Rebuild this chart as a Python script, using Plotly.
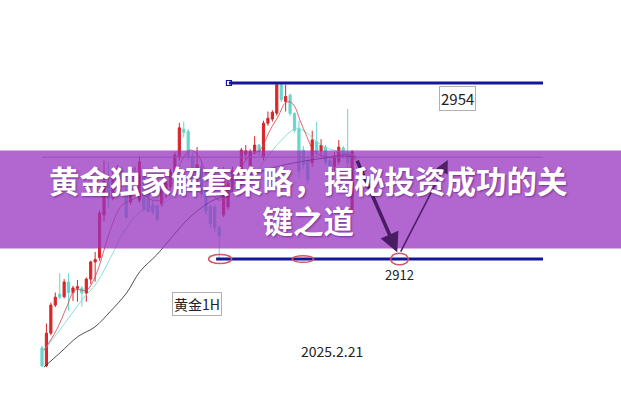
import plotly.graph_objects as go

# ---- candle data (index, open, high, low, close) ----
candle_open = [2890.8, 2886.5, 2894.3, 2901.0, 2903.6, 2903.0, 2906.5, 2904.0, 2905.0, 2905.1,
               2903.9, 2907.2, 2911.3, 2912.3, 2922.5, 2930.5, 2926.5, 2930.5, 2933.5, 2928.5,
               2925.6, 2930.0, 2926.0, 2932.8, 2928.0, 2924.9, 2924.4, 2925.0, 2928.0, 2929.2,
               2932.8, 2936.3, 2943.0, 2942.4, 2936.5, 2931.0, 2934.0, 2928.5, 2924.5, 2924.4,
               2919.5, 2922.5, 2924.4, 2929.0, 2933.0, 2930.0, 2937.0, 2933.5, 2937.6, 2939.2,
               2936.3, 2944.4, 2945.4, 2946.8, 2953.6, 2949.6, 2951.1, 2946.7, 2943.1, 2938.0,
               2935.6, 2935.0, 2940.0, 2937.8, 2938.7, 2935.5, 2934.0, 2935.2, 2938.5, 2937.5,
               2923.7]
candle_close = [2886.5, 2894.3, 2901.0, 2902.9, 2902.9, 2906.5, 2904.0, 2905.1, 2905.4, 2903.9,
                2907.2, 2911.3, 2911.9, 2923.0, 2930.5, 2926.5, 2931.5, 2933.5, 2930.2, 2922.0,
                2931.6, 2932.0, 2935.2, 2924.0, 2923.4, 2923.2, 2921.5, 2928.5, 2930.0, 2932.8,
                2936.8, 2943.3, 2942.2, 2936.4, 2931.0, 2934.5, 2927.5, 2923.5, 2920.5, 2919.5,
                2917.5, 2932.8, 2930.1, 2933.0, 2930.5, 2938.0, 2937.8, 2937.6, 2939.2, 2937.6,
                2944.4, 2945.6, 2947.0, 2953.6, 2950.0, 2950.8, 2946.7, 2942.7, 2933.0, 2934.5,
                2930.9, 2940.4, 2937.5, 2939.2, 2935.0, 2933.0, 2936.6, 2938.7, 2937.0, 2935.0,
                2937.6]
candle_high = [2891.3, 2896.6, 2901.6, 2904.0, 2908.6, 2907.2, 2908.6, 2905.6, 2907.0, 2905.5,
               2907.6, 2911.6, 2913.7, 2923.6, 2935.5, 2935.2, 2933.2, 2934.5, 2934.0, 2930.0,
               2932.5, 2934.0, 2936.5, 2934.0, 2929.0, 2926.0, 2925.0, 2929.5, 2931.0, 2933.5,
               2937.5, 2944.5, 2944.8, 2943.0, 2937.5, 2938.7, 2935.5, 2929.5, 2925.0, 2925.0,
               2920.0, 2934.0, 2931.5, 2934.0, 2934.0, 2938.5, 2939.2, 2938.2, 2941.3, 2939.4,
               2945.0, 2947.2, 2947.5, 2954.0, 2954.0, 2953.6, 2951.5, 2947.0, 2945.0, 2939.0,
               2936.5, 2942.6, 2944.7, 2940.6, 2939.2, 2936.5, 2937.5, 2940.4, 2939.0, 2947.8,
               2938.0]
candle_low = [2886.2, 2886.2, 2893.8, 2900.5, 2902.4, 2902.6, 2899.6, 2902.0, 2901.8, 2900.6,
              2901.8, 2906.0, 2906.6, 2911.6, 2921.0, 2924.2, 2926.0, 2929.5, 2929.0, 2921.5,
              2925.0, 2928.0, 2925.4, 2923.5, 2923.0, 2922.5, 2921.0, 2924.5, 2926.5, 2928.5,
              2932.0, 2935.5, 2941.0, 2935.5, 2930.0, 2930.0, 2926.5, 2922.5, 2919.5, 2918.5,
              2912.3, 2922.0, 2923.8, 2928.0, 2929.5, 2929.5, 2935.5, 2932.5, 2937.0, 2936.8,
              2935.5, 2943.8, 2944.8, 2946.2, 2949.5, 2947.2, 2946.2, 2942.2, 2931.5, 2933.5,
              2930.0, 2934.0, 2936.5, 2936.5, 2934.5, 2932.0, 2933.0, 2934.5, 2936.0, 2933.0,
              2923.0]
candle_idx = list(range(len(candle_open)))

# ---- moving average lines (index, price) ----
ma_short_x = [0.5, 3.3, 5.6, 7.45, 10.1, 12.35, 13.8, 15.8, 18.05, 20.3, 22.6, 24.8, 27.1, 29.3,
              31.6, 33.4, 35.2, 37.5, 39.7, 42.0, 45.1, 47.0, 49.2, 51.5, 53.3, 54.9, 56.0, 57.1,
              58.2, 59.8, 61.2, 62.8, 65.0, 67.3, 69.5, 70.9]
ma_short_y = [2890.3, 2895.1, 2900.6, 2904.6, 2904.6, 2908.7, 2913.4, 2920.1, 2924.9, 2926.1,
              2927.3, 2926.1, 2926.1, 2929.7, 2935.6, 2938.0, 2936.8, 2930.9, 2926.1, 2927.3,
              2934.0, 2936.8, 2938.0, 2942.8, 2946.0, 2949.2, 2949.5, 2948.3, 2945.2, 2941.2,
              2938.0, 2936.8, 2936.3, 2936.8, 2936.8, 2935.6]
ma_mid_x = [-0.07, 4.06, 9.0, 12.35, 16.0, 18.7, 22.1, 26.6, 31.2, 35.7, 39.1, 42.4, 45.8, 49.2,
            52.1, 55.2, 57.5, 59.8, 62.0, 64.3, 67.3, 70.9]
ma_mid_y = [2889.6, 2895.1, 2902.2, 2906.3, 2913.4, 2918.9, 2923.2, 2924.9, 2928.0, 2931.3,
            2929.7, 2928.5, 2930.9, 2934.0, 2938.0, 2941.6, 2943.2, 2942.1, 2940.0, 2938.5,
            2937.6, 2936.8]
ma_long_x = [0.45, 4.06, 8.13, 11.96, 15.35, 19.1, 22.1, 25.9, 28.2, 33.4, 37.9, 42.5, 44.9,
             49.2, 53.7, 56.7, 60.5, 63.9, 67.3, 70.9]
ma_long_y = [2886.2, 2889.6, 2893.5, 2895.8, 2899.4, 2903.9, 2909.0, 2913.0, 2915.8, 2922.0,
             2925.6, 2927.8, 2930.4, 2932.8, 2934.2, 2934.9, 2935.6, 2936.1, 2936.6, 2936.3]

# ---- levels and labels ----
level_high = 2954
level_low = 2912
label_high = "2954"
label_low = "2912"
label_symbol = "黄金1H"
label_date = "2025.2.21"
title_line1 = "黄金独家解套策略，揭秘投资成功的关"
title_line2 = "键之道"

# arrow waypoints (index, price): tail then head
arrow_down_x = [71.0, 80.2]
arrow_down_y = [2935.8, 2913.6]
arrow_up_x = [80.8, 91.6]
arrow_up_y = [2913.4, 2935.6]

fig = go.Figure()

# faint guide line under banner
fig.add_trace(go.Scatter(x=[0, 113.1], y=[2936.3, 2936.3], mode="lines",
                         line=dict(color="#9a9a9a", width=1), hoverinfo="skip"))

fig.add_trace(go.Scatter(x=ma_long_x, y=ma_long_y, mode="lines", line_shape="spline",
                         line=dict(color="#222222", width=0.8), hoverinfo="skip"))
fig.add_trace(go.Scatter(x=ma_mid_x, y=ma_mid_y, mode="lines", line_shape="spline",
                         line=dict(color="#7fd8d4", width=0.9), hoverinfo="skip"))
fig.add_trace(go.Scatter(x=ma_short_x, y=ma_short_y, mode="lines", line_shape="spline",
                         line=dict(color="#d0404a", width=0.8), hoverinfo="skip"))

fig.add_trace(go.Candlestick(
    x=candle_idx, open=candle_open, high=candle_high, low=candle_low, close=candle_close,
    increasing=dict(line=dict(color="#d8262a", width=1), fillcolor="#d8262a"),
    decreasing=dict(line=dict(color="#66d6cc", width=1), fillcolor="#66d6cc"),
    whiskerwidth=0, hoverinfo="skip"))

# horizontal level lines
fig.add_trace(go.Scatter(x=[42.2, 113.1], y=[level_high, level_high], mode="lines",
                         line=dict(color="#16169a", width=3), hoverinfo="skip"))
fig.add_trace(go.Scatter(x=[42.2], y=[level_high], mode="markers",
                         marker=dict(symbol="square-open", size=5, color="#16169a",
                                     line=dict(width=1.2, color="#16169a")), hoverinfo="skip"))
fig.add_trace(go.Scatter(x=[39.3, 113.1], y=[level_low, level_low], mode="lines",
                         line=dict(color="#16169a", width=3), hoverinfo="skip"))

shapes = []
for x0, x1, y0, y1 in [(37.6, 42.8, 2910.9, 2913.1), (56.5, 61.3, 2911.2, 2912.8),
                       (78.7, 82.7, 2910.6, 2913.4)]:
    shapes.append(dict(type="circle", xref="x", yref="y", x0=x0, x1=x1, y0=y0, y1=y1,
                       line=dict(color="#d05868", width=1.5), layer="above"))
# purple banner
shapes.append(dict(type="rect", xref="paper", yref="paper", x0=0, x1=1,
                   y0=1 - 248.5 / 400, y1=1 - 150.5 / 400,
                   fillcolor="rgba(152,51,192,0.75)", line=dict(width=0), layer="above"))

cjk = "Noto Sans CJK SC"
annotations = [
    # arrows (drawn above the banner in a dark purple tone)
    dict(x=arrow_down_x[1], y=arrow_down_y[1], ax=arrow_down_x[0], ay=arrow_down_y[0],
         xref="x", yref="y", axref="x", ayref="y", showarrow=True, text="",
         arrowhead=2, arrowsize=1.1, arrowwidth=3.5, arrowcolor="#4a1c64"),
    dict(x=arrow_up_x[1], y=arrow_up_y[1], ax=arrow_up_x[0], ay=arrow_up_y[0],
         xref="x", yref="y", axref="x", ayref="y", showarrow=True, text="",
         arrowhead=2, arrowsize=1.6, arrowwidth=1.6, arrowcolor="#4e2068"),
    dict(x=93.7, y=2950.2, xref="x", yref="y", text=label_high, showarrow=False,
         font=dict(family=cjk, size=15, color="#222222"), bordercolor="#b0b0b0",
         borderwidth=1, borderpad=1, bgcolor="white"),
    dict(x=80.8, y=2908.2, xref="x", yref="y", text=label_low, showarrow=False,
         font=dict(family=cjk, size=13, color="#222222")),
    dict(x=35.0, y=2901.3, xref="x", yref="y", text=label_symbol, showarrow=False,
         font=dict(family=cjk, size=14, color="#222222"), bordercolor="#b0b0b0",
         borderwidth=1, borderpad=1, bgcolor="white"),
    dict(x=65.5, y=2890.0, xref="x", yref="y", text=label_date, showarrow=False,
         font=dict(family=cjk, size=14, color="#222222")),
    dict(x=0.496, y=1 - 200 / 400, xref="paper", yref="paper",
         text="<b>" + title_line1 + "<br>" + title_line2 + "</b>", align="center",
         showarrow=False, font=dict(family=cjk, size=30.5, color="white",
                                    shadow="1px 1px 2px rgba(60,0,80,0.5)")),
]

fig.update_layout(
    width=621, height=400, margin=dict(l=0, r=0, t=0, b=0),
    paper_bgcolor="white", plot_bgcolor="white", showlegend=False,
    xaxis=dict(range=[-9.48, 130.7], visible=False, rangeslider=dict(visible=False),
               fixedrange=True),
    yaxis=dict(range=[2878.35, 2973.81], visible=False, fixedrange=True),
    shapes=shapes, annotations=annotations,
)

fig.write_html("out.html", config={"displayModeBar": False},
               post_script="document.body.style.margin='0';document.body.style.overflow='hidden';")
